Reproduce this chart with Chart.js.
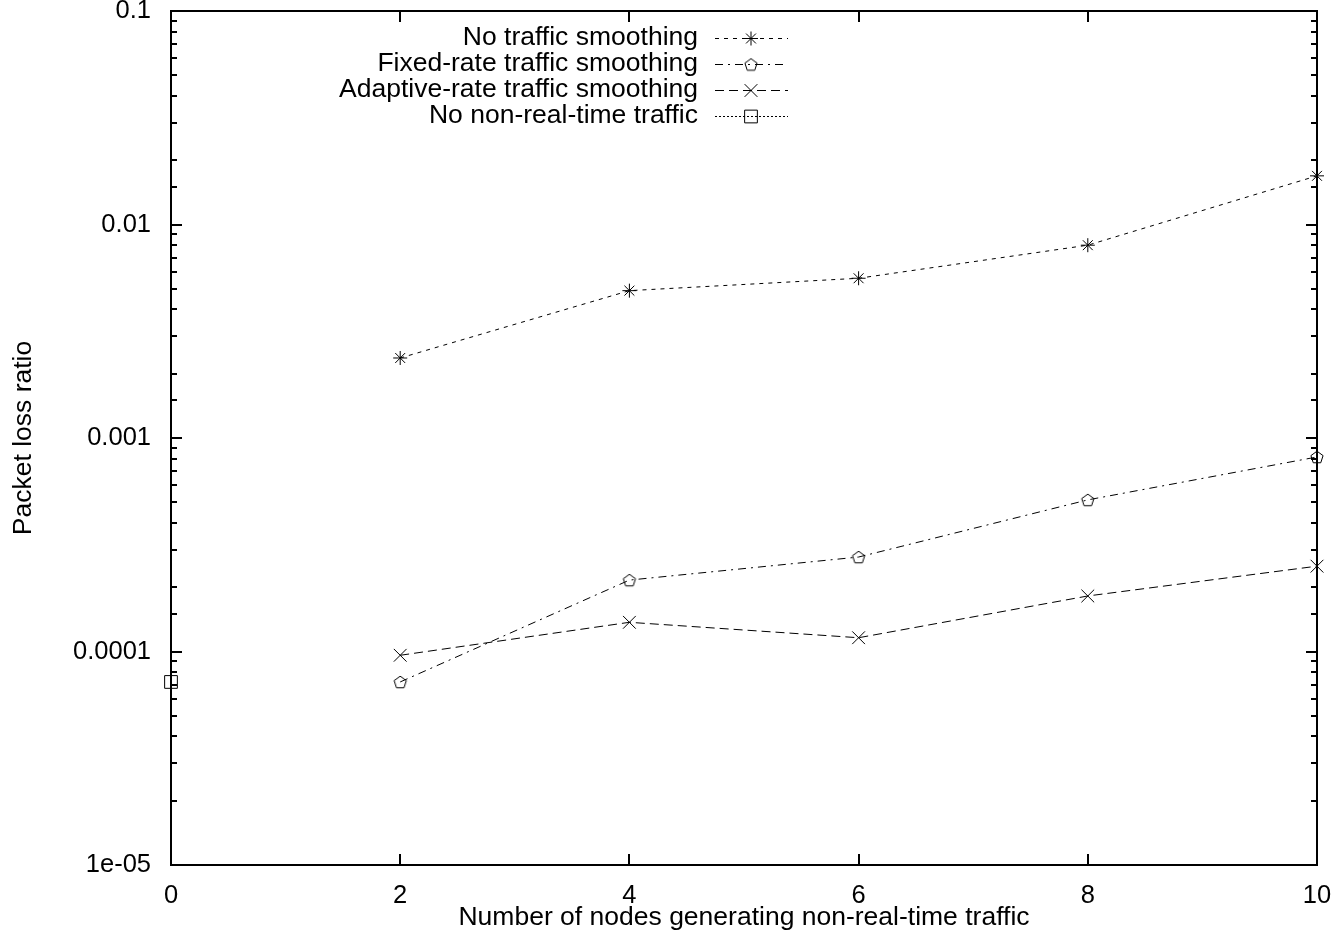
<!DOCTYPE html>
<html>
<head>
<meta charset="utf-8">
<title>Packet loss ratio</title>
<script src="https://cdn.jsdelivr.net/npm/chart.js@4.4.1/dist/chart.umd.min.js"></script>
<style>
  html, body { margin: 0; padding: 0; background: #ffffff; }
  #wrap { width: 1334px; height: 932px; }
</style>
</head>
<body>
<div id="wrap"><canvas id="chart" width="1334" height="932"></canvas></div>
<script>
const X_NODES = [2, 4, 6, 8, 10];
const NO_SMOOTHING = [0.00237, 0.0049, 0.0056, 0.0080, 0.0169];
const FIXED_RATE = [0.000072, 0.000216, 0.000277, 0.000513, 0.000815];
const ADAPTIVE_RATE = [0.000096, 0.000137, 0.000116, 0.000182, 0.000251];
const NO_NRT_X = [0];
const NO_NRT = [0.000072];

const SERIES_NAMES = [
  "No traffic smoothing",
  "Fixed-rate traffic smoothing",
  "Adaptive-rate traffic smoothing",
  "No non-real-time traffic"
];
const Y_TICK_VALUES = [1e-5, 1e-4, 1e-3, 1e-2, 1e-1];
const Y_TICK_LABELS = ["1e-05", "0.0001", "0.001", "0.01", "0.1"];

const FONT = "'Liberation Sans', Arial, Helvetica, sans-serif";

function pares(xs, ys) {
  return xs.map((x, i) => ({ x: x, y: ys[i] }));
}

// gnuplot-style pentagon marker
function crearPentagono() {
  const c = document.createElement("canvas");
  c.width = 16;
  c.height = 16;
  const ctx = c.getContext("2d");
  ctx.strokeStyle = "#000000";
  ctx.lineWidth = 1;
  ctx.beginPath();
  for (let k = 0; k < 5; k += 1) {
    const a = -Math.PI / 2 + k * 2 * Math.PI / 5;
    const px = 8 + 6.4 * Math.cos(a);
    const py = 8.6 + 6.4 * Math.sin(a);
    if (k === 0) ctx.moveTo(px, py); else ctx.lineTo(px, py);
  }
  ctx.closePath();
  ctx.stroke();
  return c;
}

const pentagono = crearPentagono();

function serie(nombre, datos, dash, estilo, radio) {
  return {
    label: nombre,
    data: datos,
    borderColor: "#000000",
    borderWidth: 1,
    borderDash: dash,
    tension: 0,
    fill: false,
    clip: false,
    pointStyle: estilo,
    pointRadius: radio,
    pointBorderWidth: 1,
    pointBorderColor: "#000000",
    pointBackgroundColor: "rgba(0,0,0,0)"
  };
}

const datasets = [
  serie(SERIES_NAMES[0], pares(X_NODES, NO_SMOOTHING), [4, 5], "star", 7),
  serie(SERIES_NAMES[1], pares(X_NODES, FIXED_RATE), [8, 5, 2, 5], pentagono, 6),
  serie(SERIES_NAMES[2], pares(X_NODES, ADAPTIVE_RATE), [9, 5], "crossRot", 9),
  serie(SERIES_NAMES[3], pares(NO_NRT_X, NO_NRT), [2, 2], "rect", 9)
];

function esMayor(valor) {
  const l = Math.log10(valor);
  return Math.abs(l - Math.round(l)) < 1e-6;
}

const pluginMarco = {
  id: "marcoGnuplot",
  afterDatasetsDraw(chart) {
    const { ctx, chartArea } = chart;
    const { left, right, top, bottom } = chartArea;
    const sx = chart.scales.x;
    const sy = chart.scales.y;

    ctx.save();
    ctx.strokeStyle = "#000000";
    ctx.lineWidth = 2;
    ctx.setLineDash([]);
    ctx.beginPath();
    ctx.rect(left, top, right - left, bottom - top);
    ctx.stroke();

    ctx.beginPath();
    sy.ticks.forEach((t) => {
      const y = Math.round(sy.getPixelForValue(t.value));
      const largo = esMayor(t.value) ? 11 : 6;
      ctx.moveTo(left, y);
      ctx.lineTo(left + largo, y);
      ctx.moveTo(right, y);
      ctx.lineTo(right - largo, y);
    });
    sx.ticks.forEach((t) => {
      const x = Math.round(sx.getPixelForValue(t.value));
      ctx.moveTo(x, bottom);
      ctx.lineTo(x, bottom - 11);
      ctx.moveTo(x, top);
      ctx.lineTo(x, top + 11);
    });
    ctx.stroke();

    // legend, gnuplot style: text on the left, sample on the right
    const textoX = 698;
    const lineaIni = 715;
    const lineaFin = 788;
    const marcaX = 751;
    ctx.font = "26.5px " + FONT;
    ctx.textAlign = "right";
    ctx.textBaseline = "middle";
    ctx.fillStyle = "#000000";
    chart.data.datasets.forEach((ds, i) => {
      const y = 37.5 + i * 26;
      ctx.fillText(ds.label, textoX, y);
      const yl = Math.round(y) + 0.5;
      ctx.lineWidth = 1;
      ctx.setLineDash(ds.borderDash);
      ctx.beginPath();
      ctx.moveTo(lineaIni, yl);
      ctx.lineTo(lineaFin, yl);
      ctx.stroke();
      ctx.setLineDash([]);
      ctx.fillStyle = "rgba(0,0,0,0)";
      Chart.helpers.drawPoint(ctx, {
        pointStyle: ds.pointStyle,
        radius: ds.pointRadius,
        borderWidth: 1,
        rotation: 0
      }, marcaX, yl);
      ctx.fillStyle = "#000000";
    });
    ctx.restore();
  }
};

function sinRelleno(scale) {
  scale.paddingTop = 0;
  scale.paddingBottom = 0;
  scale.paddingLeft = 0;
  scale.paddingRight = 0;
}

new Chart(document.getElementById("chart"), {
  type: "line",
  data: { datasets: datasets },
  options: {
    responsive: false,
    animation: false,
    devicePixelRatio: 1,
    layout: { padding: { top: 11, right: 17, bottom: 0, left: 0 } },
    plugins: {
      legend: { display: false },
      tooltip: { enabled: false }
    },
    scales: {
      x: {
        type: "linear",
        min: 0,
        max: 10,
        border: { display: false },
        grid: { display: false, drawTicks: false },
        ticks: {
          stepSize: 2,
          padding: 16,
          color: "#000000",
          font: { family: FONT, size: 25.5 },
          maxRotation: 0
        },
        title: {
          display: true,
          text: "Number of nodes generating non-real-time traffic",
          color: "#000000",
          font: { family: FONT, size: 26.5 },
          padding: { top: 0, bottom: -2 }
        },
        afterFit(scale) {
          scale.height = 67;
          sinRelleno(scale);
        }
      },
      y: {
        type: "logarithmic",
        min: 1e-5,
        max: 0.1,
        border: { display: false },
        grid: { display: false, drawTicks: false },
        ticks: {
          autoSkip: false,
          padding: 20,
          color: "#000000",
          font: { family: FONT, size: 25.5 },
          callback(valor) {
            const i = Y_TICK_VALUES.findIndex((v) => Math.abs(Math.log10(v) - Math.log10(valor)) < 1e-6);
            return i >= 0 ? Y_TICK_LABELS[i] : "";
          }
        },
        title: {
          display: true,
          text: "Packet loss ratio",
          color: "#000000",
          font: { family: FONT, size: 26.5 },
          padding: { top: 8, bottom: 0 }
        },
        afterFit(scale) {
          scale.width = 171;
          sinRelleno(scale);
        }
      }
    }
  },
  plugins: [pluginMarco]
});
</script>
</body>
</html>
